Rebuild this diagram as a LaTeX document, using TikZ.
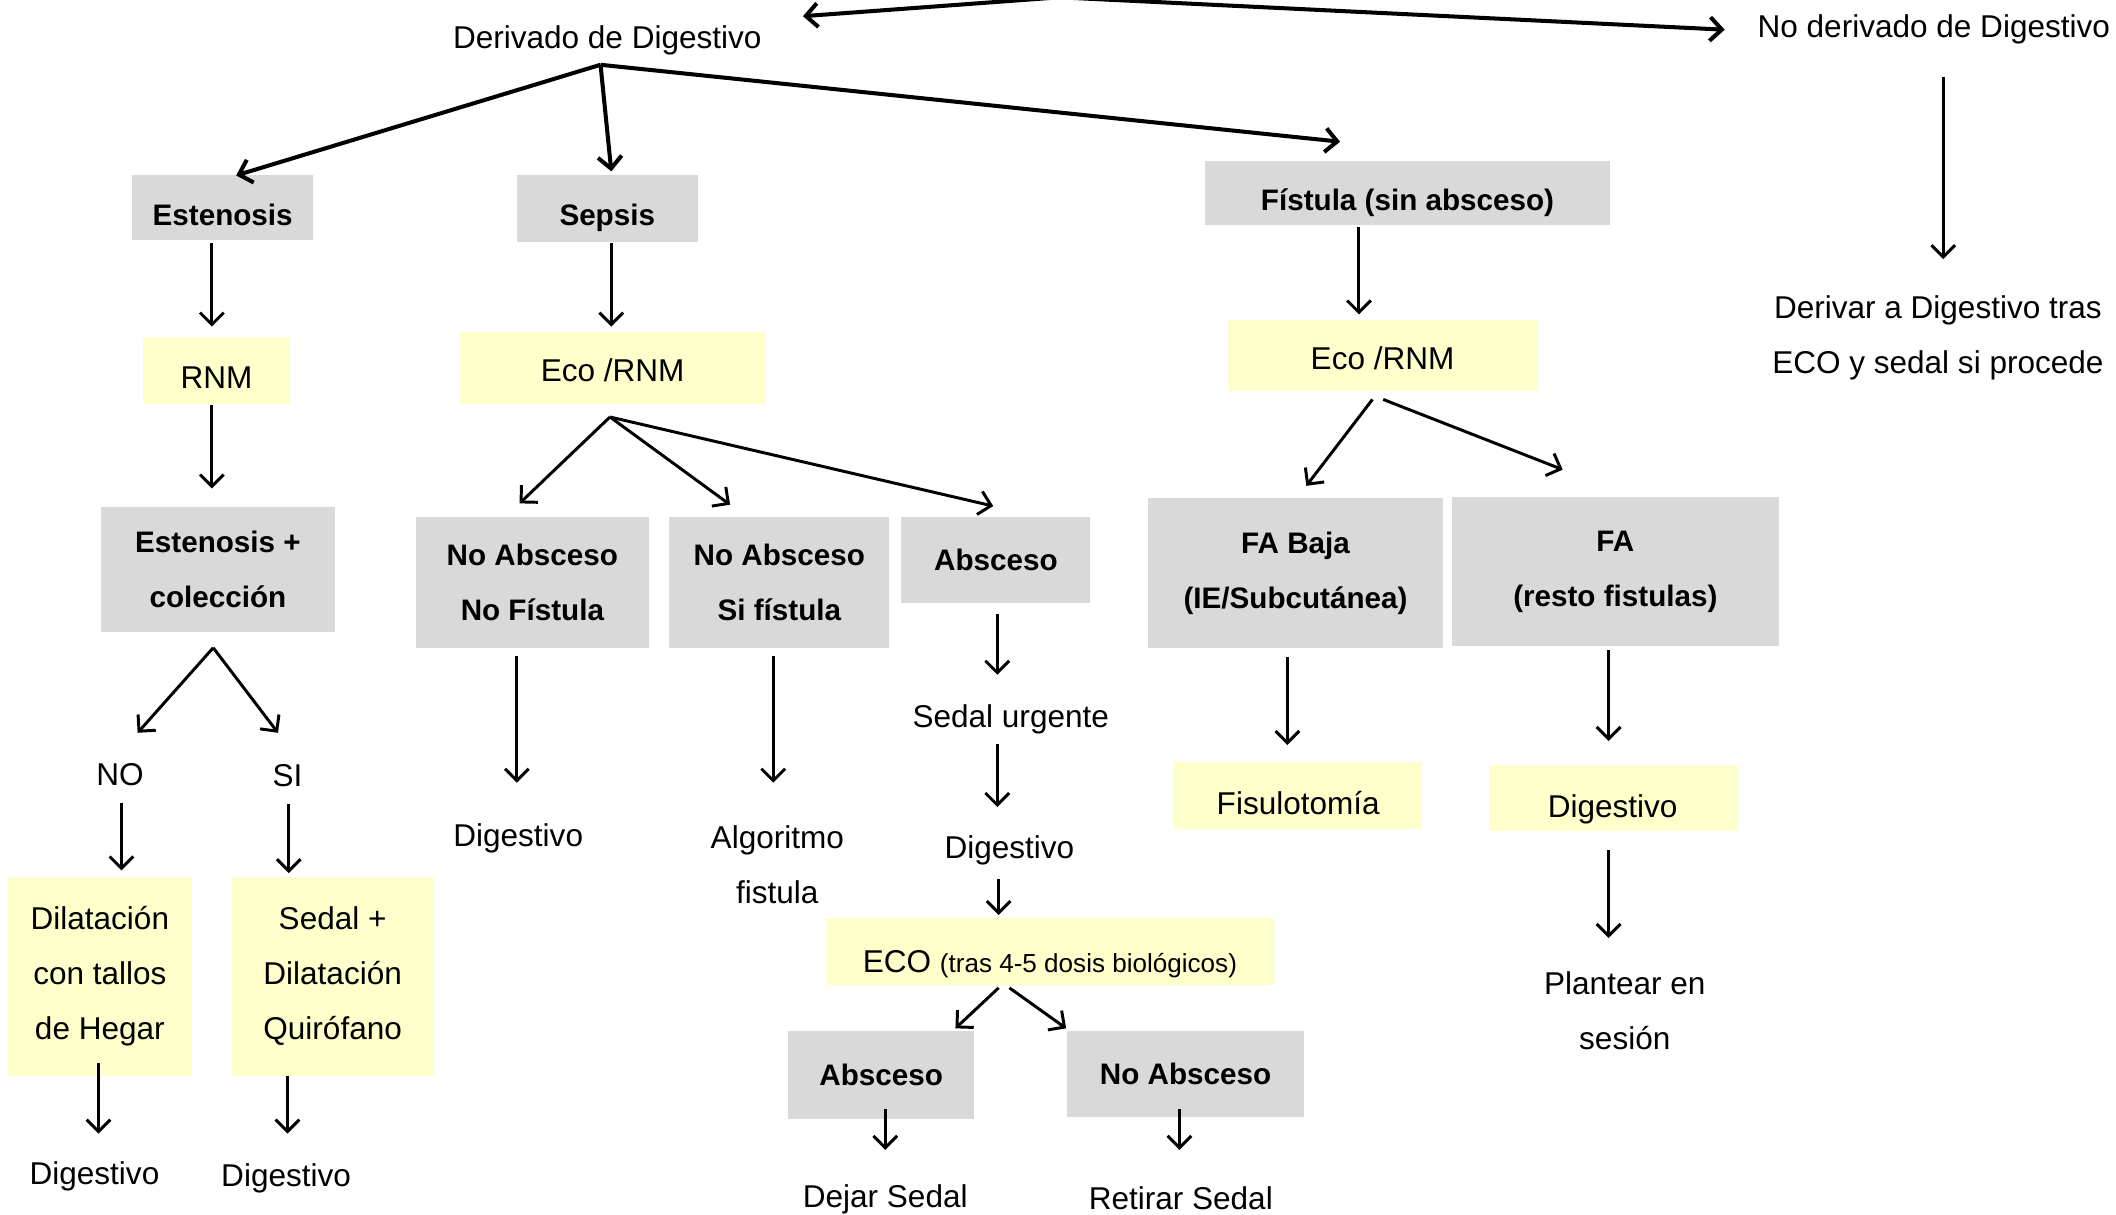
\documentclass[tikz,border=0pt]{standalone}
\usepackage{fontspec}
\setmainfont{Liberation Sans}
\usetikzlibrary{arrows.meta,calc}
\definecolor{boxgray}{HTML}{D9D9D9}
\definecolor{boxyellow}{HTML}{FFFFCC}

\begin{document}
\begin{tikzpicture}[x=0.02cm, y=-0.02cm,
    graybox/.style={rectangle, fill=boxgray, inner sep=0pt, align=center, font=\fontsize{12.5}{23.2}\selectfont\bfseries},
    yellowbox/.style={rectangle, fill=boxyellow, inner sep=0pt, align=center, font=\fontsize{13.3}{23.2}\selectfont},
    txt/.style={inner sep=0pt, align=center, font=\fontsize{13.3}{23.2}\selectfont},
    textdown/.style={text height=#1, text depth=0pt},
    arrow/.style={-{Straight Barb[length=5pt, width=10pt]}, line width=1.25pt},
    bigarrow/.style={arrow, line width=1.7pt}
]
    \useasboundingbox (0,0) rectangle (1568,900);

    % Top: derivado / no derivado
    \coordinate (apex) at (785,-2);
    \node[txt] (der) at (450,30) {Derivado de Digestivo};
    \node[txt] (noder) at (1433,22) {No derivado de Digestivo};
    \node[txt] (derivar) at (1436,250) {Derivar a Digestivo tras\\ECO y sedal si procede};
    \draw[bigarrow] (apex) -- ($(der)+(145,-18)$);
    \draw[bigarrow] (apex) -- ($(noder)+(-155,0)$);
    \draw[arrow] ($(noder)+(7,35)$) -- ($(derivar)+(4,-58)$);

    % First level
    \node[graybox, textdown=14.6pt, minimum width=2.68cm, minimum height=0.96cm] (est) at (165,154) {Estenosis};
    \node[graybox, textdown=14.6pt, minimum width=2.68cm, minimum height=0.98cm] (sep) at (450,154.5) {Sepsis};
    \node[graybox, textdown=14.6pt, minimum width=6.00cm, minimum height=0.96cm] (fis) at (1043,143) {Fístula (sin absceso)};
    \coordinate (derfork) at ($(der)+(-5,18)$);
    \draw[bigarrow] (derfork) -- ($(est)+(10,-24)$);
    \draw[bigarrow] (derfork) -- ($(sep)+(3,-27.5)$);
    \draw[bigarrow] (derfork) -- ($(fis)+(-50,-38)$);

    % Left branch: estenosis
    \node[yellowbox, textdown=15.2pt, minimum width=2.18cm, minimum height=0.98cm] (rnm) at (160.5,274.5) {RNM};
    \node[graybox, minimum width=3.46cm, minimum height=1.84cm] (estcol) at (161.5,422) {Estenosis +\\colección};
    \node[txt] (no) at (89,574) {NO};
    \node[txt] (si) at (213,575) {SI};
    \node[yellowbox, minimum width=2.72cm, minimum height=2.94cm] (dil) at (74,723.5) {Dilatación\\con tallos\\de Hegar};
    \node[yellowbox, minimum width=2.98cm, minimum height=2.94cm] (sedq) at (246.5,723.5) {Sedal +\\Dilatación\\Quirófano};
    \node[txt] (dig1) at (70,872) {Digestivo};
    \node[txt] (dig2) at (212,873) {Digestivo};
    \draw[arrow] ($(est)+(-8,26)$) -- ($(rnm)+(-3.5,-32.5)$);
    \draw[arrow] ($(rnm)+(-3.5,25.5)$) -- ($(estcol)+(-4.5,-60)$);
    \coordinate (estfork) at ($(estcol)+(-3.5,58)$);
    \draw[arrow] (estfork) -- ($(no)+(13,-31)$);
    \draw[arrow] (estfork) -- ($(si)+(-7,-32)$);
    \draw[arrow] ($(no)+(1,21)$) -- ($(dil)+(16,-78.5)$);
    \draw[arrow] ($(si)+(1,21)$) -- ($(sedq)+(-32.5,-76.5)$);
    \draw[arrow] ($(dil)+(-1,64.5)$) -- ($(dig1)+(3,-32)$);
    \draw[arrow] ($(sedq)+(-33.5,73.5)$) -- ($(dig2)+(1,-33)$);

    % Middle branch: sepsis
    \node[yellowbox, textdown=11.8pt, minimum width=4.56cm, minimum height=1.06cm] (eco1) at (454,272.5) {Eco /RNM};
    \node[graybox, minimum width=3.46cm, minimum height=1.94cm] (nanf) at (394.5,431.5) {No Absceso\\No Fístula};
    \node[graybox, minimum width=3.26cm, minimum height=1.94cm] (nasf) at (577.5,431.5) {No Absceso\\Si fístula};
    \node[graybox, minimum width=2.80cm, minimum height=1.28cm] (abs1) at (738,415) {Absceso};
    \node[txt] (dig4) at (384,621) {Digestivo};
    \node[txt] (alg) at (576,640.5) {Algoritmo\\fistula};
    \node[txt] (sedu) at (749,533) {Sedal urgente};
    \node[txt] (dig5) at (748,630) {Digestivo};
    \draw[arrow] ($(sep)+(3,25.5)$) -- ($(eco1)+(-1,-30.5)$);
    \coordinate (ecofork) at ($(eco1)+(-2,36.5)$);
    \draw[arrow] (ecofork) -- ($(nanf)+(-9.5,-58.5)$);
    \draw[arrow] (ecofork) -- ($(nasf)+(-36.5,-57.5)$);
    \draw[arrow] (ecofork) -- ($(abs1)+(-2,-40)$);
    \draw[arrow] ($(nanf)+(-11.5,54.5)$) -- ($(dig4)+(-1,-41)$);
    \draw[arrow] ($(nasf)+(-4.5,54.5)$) -- ($(alg)+(-3,-60.5)$);
    \draw[arrow] ($(abs1)+(1,40)$) -- ($(sedu)+(-10,-33)$);
    \draw[arrow] ($(sedu)+(-10,18)$) -- ($(dig5)+(-9,-32)$);

    % ECO after biologics
    \node[yellowbox, textdown=17.5pt, minimum width=6.64cm, minimum height=1.00cm] (ecob) at (778,705) {ECO {\fontsize{11}{13}\selectfont (tras 4-5 dosis biológicos)}};
    \node[graybox, minimum width=2.76cm, minimum height=1.30cm] (abs2) at (653,796.5) {Absceso};
    \node[graybox, minimum width=3.50cm, minimum height=1.28cm] (nabs) at (878.5,796) {No Absceso};
    \node[txt] (dejar) at (656,889) {Dejar Sedal};
    \node[txt] (retirar) at (875,888) {Retirar Sedal};
    \draw[arrow] ($(dig5)+(-8,21)$) -- ($(ecob)+(-38,-27)$);
    \draw[arrow] ($(ecob)+(-38,27)$) -- ($(abs2)+(55,-34.5)$);
    \draw[arrow] ($(ecob)+(-30,27)$) -- ($(nabs)+(-88.5,-34)$);
    \draw[arrow] ($(abs2)+(3,25.5)$) -- ($(dejar)+(0,-37)$);
    \draw[arrow] ($(nabs)+(-4.5,26)$) -- ($(retirar)+(-1,-36)$);

    % Right branch: fistula
    \node[yellowbox, textdown=11.8pt, minimum width=4.58cm, minimum height=1.06cm] (eco2) at (1024.5,263.5) {Eco /RNM};
    \node[graybox, minimum width=4.36cm, minimum height=2.22cm] (fab) at (960,424.5) {FA Baja\\(IE/Subcutánea)};
    \node[graybox, minimum width=4.84cm, minimum height=2.22cm] (far) at (1197,423.5) {FA\\(resto fistulas)};
    \node[yellowbox, textdown=16.3pt, minimum width=3.68cm, minimum height=0.98cm] (fisu) at (962,589.5) {Fisulotomía};
    \node[yellowbox, textdown=16.3pt, minimum width=3.68cm, minimum height=0.98cm] (dig3) at (1195,591.5) {Digestivo};
    \node[txt] (plant) at (1204,749) {Plantear en\\sesión};
    \draw[arrow] ($(fis)+(-36,25)$) -- ($(eco2)+(-17.5,-30.5)$);
    \draw[arrow] ($(eco2)+(-7.5,32.5)$) -- ($(fab)+(8,-64.5)$);
    \draw[arrow] ($(eco2)+(0.5,32.5)$) -- ($(far)+(-39,-75.5)$);
    \draw[arrow] ($(fab)+(-6,62.5)$) -- ($(fisu)+(-8,-37.5)$);
    \draw[arrow] ($(far)+(-5,58.5)$) -- ($(dig3)+(-3,-42.5)$);
    \draw[arrow] ($(dig3)+(-3,38.5)$) -- ($(plant)+(-12,-54)$);
\end{tikzpicture}
\end{document}
